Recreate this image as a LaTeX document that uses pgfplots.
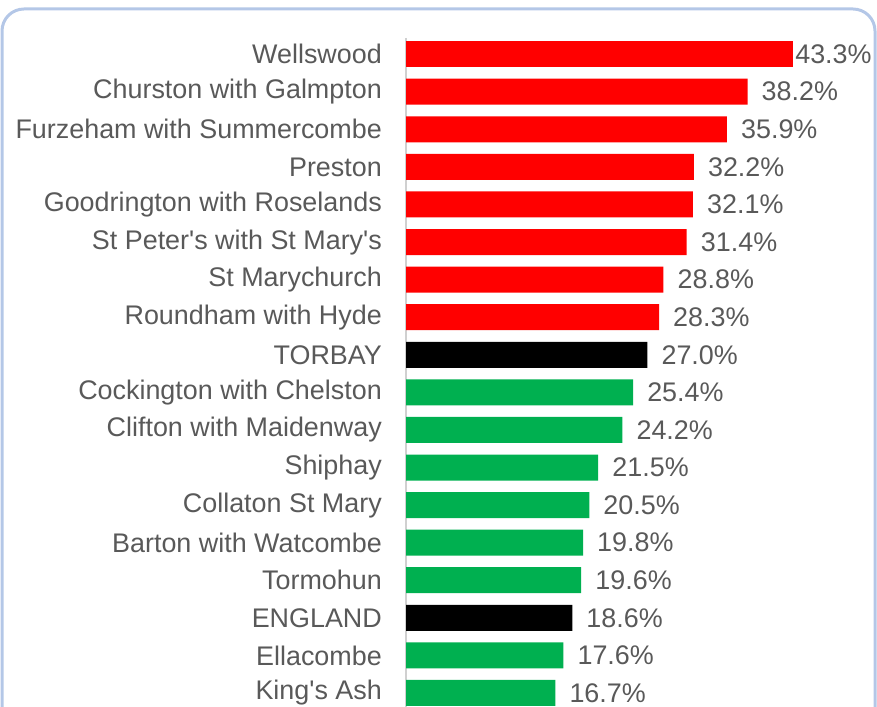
\documentclass[border=0pt]{standalone}
\usepackage{fontspec}
\setmainfont{Liberation Sans}
\usepackage{pgfplots}
\pgfplotsset{compat=1.18}
\definecolor{txt}{HTML}{595959}
\definecolor{redbar}{HTML}{FF0000}
\definecolor{greenbar}{HTML}{00B050}
\definecolor{frame}{HTML}{B4C7E7}
\definecolor{axl}{HTML}{D0D0D0}
\begin{document}
\begin{tikzpicture}[x=1pt,y=1pt]
\path[use as bounding box] (0,0) rectangle (877,706);
\draw[frame, line width=3pt, rounded corners=22pt] (2,-30) -- (2,697) -- (875,697) -- (875,-30);
\begin{axis}[
  at={(406pt,668pt)}, anchor=north west,
  scale only axis, width=447pt, height=670pt,
  xmin=0, xmax=50, ymin=-0.43, ymax=17.4, y dir=reverse,
  xbar, bar width=26pt, bar shift=0pt,
  axis x line=none, axis y line*=left,
  y axis line style={draw=axl, line width=2pt, -},
  ytick={0,...,17}, major tick length=0pt,
  yticklabels={Wellswood,Churston with Galmpton,Furzeham with Summercombe,Preston,Goodrington with Roselands,St Peter\textquotesingle s with St Mary\textquotesingle s,St Marychurch,Roundham with Hyde,TORBAY,Cockington with Chelston,Clifton with Maidenway,Shiphay,Collaton St Mary,Barton with Watcombe,Tormohun,ENGLAND,Ellacombe,King\textquotesingle s Ash},
  yticklabel style={font=\fontsize{26.9}{30}\selectfont, text=txt, inner sep=0pt, anchor=east, xshift=-24pt},
  clip=false,
  /pgf/number format/assume math mode=true,
  nodes near coords={\pgfmathprintnumber[fixed,precision=1,fixed zerofill]{\pgfplotspointmeta}\%},
  nodes near coords style={anchor=west, inner sep=0pt, xshift=14pt, font=\fontsize{26.9}{30}\selectfont, text=txt},
]
\addplot[fill=redbar, draw=none, nodes near coords style={xshift=-12pt}] coordinates {(43.3,0)};
\addplot[fill=redbar, draw=none] coordinates {(38.2,1) (35.9,2) (32.2,3) (32.1,4) (31.4,5) (28.8,6) (28.3,7)};
\addplot[fill=black, draw=none] coordinates {(27.0,8) (18.6,15)};
\addplot[fill=greenbar, draw=none] coordinates {(25.4,9) (24.2,10) (21.5,11) (20.5,12) (19.8,13) (19.6,14) (17.6,16) (16.7,17)};
\end{axis}
\end{tikzpicture}
\end{document}
